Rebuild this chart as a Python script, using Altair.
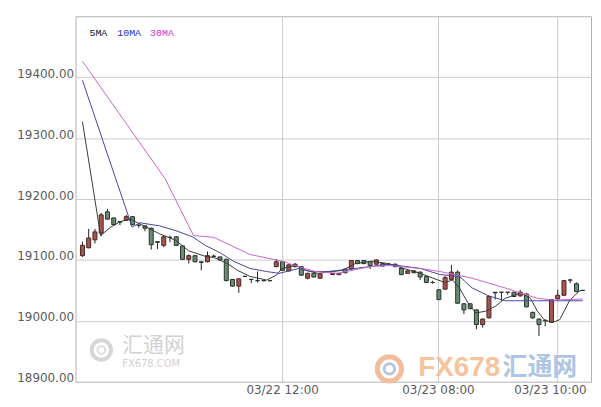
import altair as alt
import pandas as pd

# ---------------- data ----------------
idx = list(range(81))
opens = [19107, 19120, 19133, 19144, 19179, 19169, 19163, 19165, 19171, 19157,
         19156, 19152, 19130, 19124, 19137, 19138, 19123, 19101, 19107, 19097,
         19097, 19106, 19105, 19101, 19068, 19057, 19073, 19068, 19066, 19066,
         19066, 19089, 19097, 19082, 19093, 19089, 19070, 19078, 19070, 19080,
         19076, 19076, 19085, 19085, 19099, 19099, 19097, 19093, 19094, 19093,
         19093, 19086, 19078, 19082, 19080, 19073, 19063, 19051, 19052, 19068,
         19080, 19028, 19028, 19018, 18994, 19005, 19047, 19047, 19047, 19047,
         19041, 19044, 19014, 19003, 19001, 18998, 19036, 19042, 19067, 19061,
         19050]
closes = [19124, 19136, 19146, 19174, 19167, 19158, 19162, 19171, 19158, 19157,
          19152, 19125, 19129, 19138, 19137, 19124, 19101, 19107, 19097, 19096,
          19107, 19106, 19100, 19066, 19057, 19069, 19073, 19068, 19066, 19066,
          19066, 19097, 19083, 19092, 19089, 19075, 19078, 19072, 19077, 19080,
          19078, 19078, 19079, 19099, 19094, 19094, 19091, 19100, 19090, 19093,
          19089, 19076, 19082, 19079, 19072, 19063, 19063, 19035, 19071, 19080,
          19029, 19018, 19020, 18994, 19003, 19040, 19046, 19047, 19047, 19040,
          19047, 19023, 19005, 18994, 19000, 19035, 19042, 19066, 19067, 19048,
          19050]
highs = [19130, 19151, 19151, 19177, 19184, 19169, 19164, 19174, 19172, 19158,
         19156, 19153, 19130, 19140, 19140, 19139, 19123, 19109, 19107, 19097,
         19114, 19109, 19105, 19102, 19068, 19069, 19074, 19069, 19081, 19067,
         19067, 19101, 19098, 19093, 19095, 19090, 19079, 19079, 19078, 19081,
         19078, 19078, 19086, 19100, 19100, 19100, 19097, 19101, 19095, 19094,
         19094, 19087, 19083, 19083, 19081, 19074, 19066, 19052, 19074, 19092,
         19083, 19029, 19029, 19019, 19004, 19042, 19047, 19047, 19047, 19047,
         19051, 19045, 19015, 19004, 19001, 19036, 19051, 19067, 19069, 19063,
         19051]
lows = [19105, 19119, 19127, 19139, 19166, 19156, 19157, 19164, 19157, 19153,
        19147, 19117, 19118, 19121, 19129, 19123, 19100, 19094, 19096, 19083,
        19096, 19104, 19099, 19065, 19056, 19046, 19072, 19062, 19063, 19065,
        19065, 19088, 19082, 19081, 19088, 19074, 19068, 19071, 19069, 19079,
        19075, 19075, 19078, 19084, 19093, 19093, 19085, 19092, 19089, 19092,
        19088, 19075, 19077, 19078, 19067, 19062, 19061, 19034, 19051, 19067,
        19028, 19011, 19019, 18986, 18989, 19004, 19035, 19033, 19043, 19039,
        19040, 19022, 19003, 18975, 18991, 18997, 19035, 19041, 19062, 19047,
        19049]

ma5_i = [0, 2.91, 4.52, 6.07, 7.63, 9.81, 12.31, 14.95, 16.98, 19.63, 21.03, 23.21,
         24.77, 26.79, 29.44, 31.0, 31.93, 34.11, 35.67, 37.69, 41.59, 43.61, 46.26,
         48.91, 51.4, 54.05, 56.07, 57.94, 59.19, 60.28, 61.84, 62.93, 64.49, 66.04,
         67.6, 70.09, 71.65, 72.74, 73.83, 75.08, 76.32, 77.88, 79.44, 80]
ma5_v = [19327, 19140, 19154, 19163, 19167, 19156, 19143, 19132, 19115, 19106, 19104, 19094,
         19083, 19073, 19067, 19075, 19086, 19091, 19083, 19078, 19083, 19094, 19098,
         19094, 19086, 19078, 19070, 19063, 19067, 19054, 19026, 19013, 19016, 19024,
         19037, 19046, 19037, 19016, 19002, 18997, 19002, 19033, 19049, 19050]
ma10_i = [0, 7.94, 9.19, 12.31, 14.95, 17.6, 19.63, 22.12, 24.14, 26.79, 29.44, 31.46,
          34.58, 36.6, 39.25, 43.61, 48.91, 54.05, 57.17, 60.28, 62.31, 64.95, 67.6,
          72.74, 80]
ma10_v = [19395, 19154, 19161, 19156, 19148, 19138, 19124, 19111, 19098, 19086, 19081, 19078,
          19086, 19081, 19081, 19086, 19093, 19086, 19076, 19073, 19054, 19041, 19033,
          19033, 19033]
ma30_i = [0, 13.24, 17.76, 21.03, 26.79, 31.93, 34.58, 37.23, 40.81, 45.95, 48.91, 54.05,
          57.17, 62.31, 67.6, 72.74, 75.39, 80]
ma30_v = [19426, 19233, 19140, 19137, 19109, 19098, 19089, 19081, 19078, 19089, 19091, 19086,
          19081, 19070, 19054, 19037, 19034, 19036]

ma_names = ["5MA", "10MA", "30MA"]
tick_pos = [31.93, 56.85, 75.86]
tick_labels = ["03/22 12:00", "03/23 08:00", "03/23 10:00"]
y_ticks = [18900, 19000, 19100, 19200, 19300, 19400]

# ---------------- tables ----------------
candles = pd.DataFrame({"i": idx, "open": opens, "high": highs, "low": lows, "close": closes})
candles["dir"] = ["up" if c > o else "down" for o, c in zip(opens, closes)]

ma = pd.concat([
    pd.DataFrame({"i": ma5_i, "v": ma5_v, "s": ma_names[0]}),
    pd.DataFrame({"i": ma10_i, "v": ma10_v, "s": ma_names[1]}),
    pd.DataFrame({"i": ma30_i, "v": ma30_v, "s": ma_names[2]}),
], ignore_index=True)

label_expr = ("[" + ",".join(f"'{t}'" for t in tick_labels) + "][indexof(["
              + ",".join(str(p) for p in tick_pos) + "], datum.value)]")

FONT = "DejaVu Sans"
xscale = alt.Scale(domain=[-0.31, 80.53], nice=False, zero=False)
yscale = alt.Scale(domain=[18900, 19500], nice=False, zero=False)
xaxis = alt.Axis(values=tick_pos, labelExpr=label_expr, title=None, grid=True,
                 ticks=False, domain=False, labelPadding=3, labelFont=FONT,
                 labelFontSize=12, labelColor="#5a5a5a", gridColor="#cccccc",
                 labelOffset={"condition": {"test": "datum.value > 70", "value": -7}, "value": 0})
yaxis = alt.Axis(values=y_ticks, format=".2f", title=None, grid=True, ticks=False,
                 domain=False, labelPadding=2, labelFont=FONT, labelFontSize=12,
                 labelColor="#5a5a5a", labelBaseline="alphabetic", gridColor="#cccccc")

X = alt.X("i:Q", scale=xscale, axis=xaxis)

one = pd.DataFrame({"k": [0]})


def deco_text(txt, x, y, size, color, font, weight="normal", opacity=1.0, align="left"):
    return alt.Chart(one).mark_text(
        text=txt, align=align, baseline="middle", fontSize=size, font=font,
        fontWeight=weight, color=color, opacity=opacity
    ).encode(x=alt.value(x), y=alt.value(y))


def deco_ring(x, y, size, color, width):
    return alt.Chart(one).mark_point(
        shape="circle", filled=False, size=size, strokeWidth=width, color=color, opacity=1
    ).encode(x=alt.value(x), y=alt.value(y))


# watermarks
wm = [
    deco_ring(26, 336, 380, "#d6d6d6", 4),
    deco_ring(26, 336, 60, "#dddddd", 2),
    deco_text("汇通网", 47, 332, 21, "#d2d2d2", "Noto Sans CJK SC"),
    deco_text("FX678.COM", 47, 350, 10, "#d2d2d2", FONT),
    deco_ring(316, 355, 600, "#f3bd9c", 5),
    deco_ring(316, 355, 110, "#b9c6e0", 3),
    deco_text("FX678", 345, 354, 28, "#f7bd93", "Liberation Sans", "bold", 0.9),
    deco_text("汇通网", 430, 353, 25, "#a7bfe3", "Noto Sans CJK SC", "bold", 0.9),
]

wicks = alt.Chart(candles).mark_rule(color="#222222", strokeWidth=1).encode(
    x=X,
    y=alt.Y("low:Q", scale=yscale, axis=yaxis),
    y2="high:Q",
)

bodies = alt.Chart(candles).mark_bar(size=4, strokeWidth=1).encode(
    x=X,
    y=alt.Y("open:Q", scale=yscale, axis=yaxis),
    y2="close:Q",
    fill=alt.Fill("dir:N", scale=alt.Scale(domain=["up", "down"], range=["#a3564f", "#6d8a73"]), legend=None),
    stroke=alt.Stroke("dir:N", scale=alt.Scale(domain=["up", "down"], range=["#4a2622", "#26332a"]), legend=None),
)

lines = alt.Chart(ma).mark_line(strokeWidth=1).encode(
    x=X,
    y=alt.Y("v:Q", scale=yscale, axis=yaxis),
    color=alt.Color("s:N", scale=alt.Scale(domain=ma_names, range=["#3a3a3a", "#4646a0", "#cc66cc"]), legend=None),
    detail="s:N",
)

legend = [
    deco_text(ma_names[0], 14, 17, 10, "#111111", "Liberation Mono"),
    deco_text(ma_names[1], 42, 17, 10, "#2a2ad0", "Liberation Mono"),
    deco_text(ma_names[2], 75, 17, 10, "#d030d0", "Liberation Mono"),
]

chart = alt.layer(*wm, wicks, bodies, lines, *legend).properties(
    width=519, height=368,
    autosize=alt.AutoSizeParams(type="none"),
    padding={"left": 68, "top": 7, "right": 2, "bottom": 15},
    background="white",
).configure_view(stroke="#b0b0b0", strokeWidth=1)

chart.save("out.html", embed_options={"renderer": "svg", "actions": False})
